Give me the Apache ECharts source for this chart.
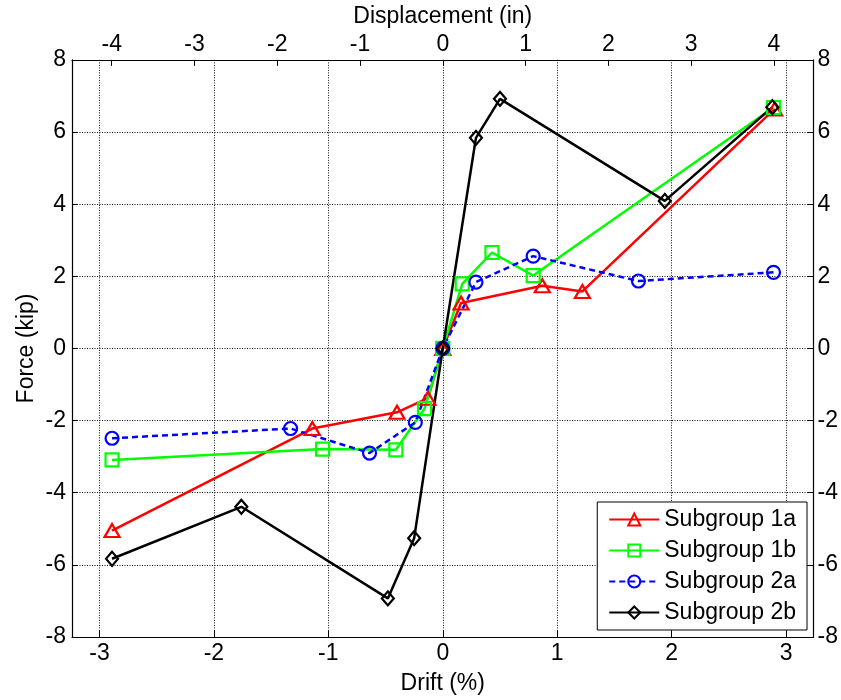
<!DOCTYPE html>
<html>
<head>
<meta charset="utf-8">
<title>Force vs Drift</title>
<script src="https://cdn.jsdelivr.net/npm/echarts@6/dist/echarts.min.js"></script>
<style>
  html, body { margin: 0; padding: 0; background: #fff; }
  #chart { width: 841px; height: 700px; }
</style>
</head>
<body>
<div id="chart"></div>
<script>
// Tick positions for each axis
const driftTicks = [-3, -2, -1, 0, 1, 2, 3];
const dispTicks = [-4, -3, -2, -1, 0, 1, 2, 3, 4];
const forceMin = -8, forceMax = 8, forceStep = 2;

// Axis extents (drift %, displacement in)
const driftRange = [-3.24, 3.24];
const dispRange = [-4.48, 4.48];

// Subgroup 1a
const drift1a = [-2.89, -1.14, -0.40, -0.13, 0, 0.16, 0.87, 1.22, 2.90];
const force1a = [-5.05, -2.22, -1.77, -1.38, 0, 1.26, 1.74, 1.58, 6.64];
// Subgroup 1b
const drift1b = [-2.89, -1.05, -0.41, -0.16, 0, 0.17, 0.43, 0.79, 2.89];
const force1b = [-3.09, -2.79, -2.81, -1.67, 0, 1.79, 2.66, 2.02, 6.68];
// Subgroup 2a
const drift2a = [-2.89, -1.33, -0.64, -0.24, 0, 0.29, 0.79, 1.71, 2.89];
const force2a = [-2.49, -2.22, -2.90, -2.05, 0, 1.84, 2.56, 1.87, 2.11];
// Subgroup 2b
const drift2b = [-2.89, -1.76, -0.48, -0.25, 0, 0.29, 0.50, 1.94, 2.88];
const force2b = [-5.83, -4.39, -6.93, -5.26, 0, 5.84, 6.92, 4.09, 6.69];

const FONT = 'Liberation Sans, Arial, sans-serif';
const FS = 23;

function pairs(xs, ys) { return xs.map((x, i) => [x, ys[i]]); }

function lineSeries(name, xs, ys, color, symbol, size, dashed) {
  return {
    name: name,
    type: 'line',
    xAxisIndex: 0,
    yAxisIndex: 0,
    data: pairs(xs, ys),
    symbol: symbol,
    symbolSize: size,
    showSymbol: true,
    color: color,
    lineStyle: { color: color, width: 2.5, type: dashed ? [6, 4] : 'solid' },
    itemStyle: { color: 'rgba(0,0,0,0)', borderColor: color, borderWidth: 2.2 },
    emphasis: { disabled: true },
    z: 3
  };
}

const tickLabel = { color: '#000', fontFamily: FONT, fontSize: FS };
const axisLine = { show: true, onZero: false, lineStyle: { color: '#000', width: 1.2 } };
const gridLine = { show: true, lineStyle: { color: '#111', type: [1, 1.5], width: 1 } };

const chart = echarts.init(document.getElementById('chart'), null, { renderer: 'canvas' });
chart.setOption({
  animation: false,
  backgroundColor: '#fff',
  grid: { left: 72, right: 27, top: 52, bottom: 63, containLabel: false },
  xAxis: [
    {
      type: 'value', position: 'bottom',
      min: driftRange[0], max: driftRange[1],
      name: 'Drift (%)', nameLocation: 'middle', nameGap: 35,
      nameTextStyle: tickLabel,
      axisLine: axisLine,
      axisTick: { show: true, inside: true, length: 6, customValues: driftTicks, lineStyle: { color: '#000' } },
      axisLabel: Object.assign({ margin: 5, customValues: driftTicks }, tickLabel),
      splitLine: gridLine
    },
    {
      type: 'value', position: 'top',
      min: dispRange[0], max: dispRange[1],
      name: 'Displacement (in)', nameLocation: 'middle', nameGap: 30,
      nameTextStyle: tickLabel,
      axisLine: axisLine,
      axisTick: { show: true, inside: true, length: 6, customValues: dispTicks, lineStyle: { color: '#000' } },
      axisLabel: Object.assign({ margin: 4, customValues: dispTicks }, tickLabel),
      splitLine: { show: false }
    }
  ],
  yAxis: [
    {
      type: 'value', position: 'left',
      min: forceMin, max: forceMax, interval: forceStep,
      name: 'Force (kip)', nameLocation: 'middle', nameGap: 34,
      nameMoveOverlap: false,
      nameTextStyle: tickLabel,
      axisLine: axisLine,
      axisTick: { show: true, inside: true, length: 6, lineStyle: { color: '#000' } },
      axisLabel: Object.assign({ margin: 6 }, tickLabel),
      splitLine: gridLine
    },
    {
      type: 'value', position: 'right',
      min: forceMin, max: forceMax, interval: forceStep,
      axisLine: axisLine,
      axisTick: { show: true, inside: true, length: 6, lineStyle: { color: '#000' } },
      axisLabel: Object.assign({ margin: 4 }, tickLabel),
      splitLine: { show: false }
    }
  ],
  legend: {
    orient: 'vertical',
    right: 34, bottom: 70,
    backgroundColor: '#fff',
    borderColor: '#000', borderWidth: 1,
    padding: [6, 11, 6, 11],
    itemWidth: 50, itemHeight: 15, itemGap: 8,
    textStyle: { color: '#000', fontFamily: FONT, fontSize: FS },
    selectedMode: false,
    data: ['Subgroup 1a', 'Subgroup 1b', 'Subgroup 2a', 'Subgroup 2b']
  },
  series: [
    lineSeries('Subgroup 1a', drift1a, force1a, '#ff0000', 'triangle', [15, 13], false),
    lineSeries('Subgroup 1b', drift1b, force1b, '#00ff00', 'rect', [13, 13], false),
    lineSeries('Subgroup 2a', drift2a, force2a, '#0000ff', 'circle', [13, 13], true),
    lineSeries('Subgroup 2b', drift2b, force2b, '#000000', 'diamond', [12, 14], false)
  ]
});
</script>
</body>
</html>
